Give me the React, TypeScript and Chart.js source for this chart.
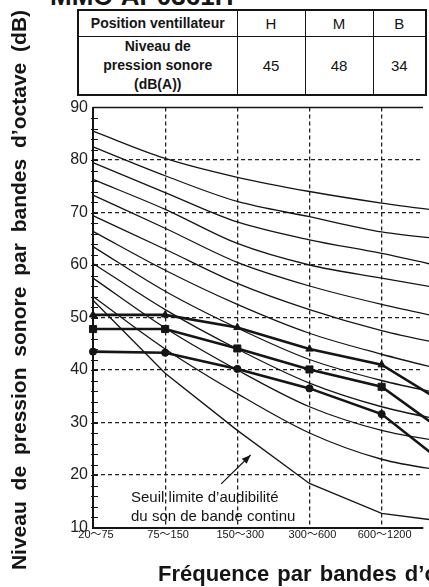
import { useEffect, useRef } from 'react';
import { Chart, registerables } from 'chart.js';

Chart.register(...registerables);

// Octave bands (Hz)
const bandLabels = ['20〜75', '75〜150', '150〜300', '300〜600', '600〜1200', '1200〜2400'];

// NC reference curves, dB per octave band
const nc70 = [85.5, 80.3, 76.7, 74.0, 71.8, 70.0];
const nc65 = [82.5, 77.0, 72.1, 69.2, 66.3, 64.7];
const nc60 = [79.5, 73.8, 68.2, 64.8, 62.2, 59.2];
const nc55 = [76.3, 70.6, 64.1, 60.0, 57.5, 55.1];
const nc50 = [73.3, 67.0, 60.5, 56.0, 52.5, 49.5];
const nc45 = [69.4, 63.0, 56.5, 51.5, 47.5, 44.5];
const nc40 = [66.4, 59.0, 52.5, 47.0, 43.0, 39.5];
const nc35 = [63.5, 55.0, 48.0, 42.0, 38.0, 35.0];
const nc30 = [60.3, 51.5, 44.0, 37.5, 33.0, 30.0];
const nc25 = [57.5, 48.0, 40.0, 33.0, 28.5, 26.0];
const nc20 = [54.0, 44.0, 35.5, 28.0, 23.0, 20.5];

// Threshold of hearing for continuous-spectrum sound
const threshold = [53.3, 39.4, 28.5, 18.4, 12.7, 10.9];

// Measured unit spectra per fan speed
const fanH = [50.5, 50.5, 48.1, 44.0, 41.0, 32.6];
const fanM = [47.8, 47.8, 44.1, 40.1, 36.8, 26.9];
const fanB = [43.5, 43.3, 40.2, 36.5, 31.6, 20.8];

// Table values
const fanPositions = ['H', 'M', 'B'];
const fanLevels = [45, 48, 34];

// Axis range
const yMin = 10;
const yMax = 90;
const xVisibleMax = 4.5734;

const ncCurves = [nc70, nc65, nc60, nc55, nc50, nc45, nc40, nc35, nc30, nc25, nc20];
const ncNames = ['NC-70', 'NC-65', 'NC-60', 'NC-55', 'NC-50', 'NC-45', 'NC-40', 'NC-35', 'NC-30', 'NC-25', 'NC-20'];

const toPoints = (vals: number[]) => vals.map((v, i) => ({ x: i, y: v }));

const FONT = '"Liberation Sans", Arial, Helvetica, sans-serif';
const INK = '#151515';

const extrasPlugin = {
  id: 'extras',
  afterDraw(chart: any) {
    const { ctx, chartArea: a, scales } = chart;
    const xs = scales.x;
    const ys = scales.y;
    ctx.save();
    ctx.strokeStyle = INK;
    // top frame line
    ctx.lineWidth = 1.6;
    ctx.beginPath();
    ctx.moveTo(a.left, a.top);
    ctx.lineTo(a.right, a.top);
    ctx.stroke();
    // minor ticks every 2 dB on the level axis
    ctx.lineWidth = 1.2;
    ctx.beginPath();
    for (let v = yMin + 2; v < yMax; v += 2) {
      const py = Math.round(ys.getPixelForValue(v)) + 0.5;
      ctx.moveTo(a.left - 2, py);
      ctx.lineTo(a.left + 5, py);
    }
    ctx.stroke();

    // threshold annotation
    ctx.fillStyle = INK;
    ctx.font = `15px ${FONT}`;
    ctx.textAlign = 'left';
    ctx.textBaseline = 'middle';
    const tx = xs.getPixelForValue(0.527);
    ctx.fillText('Seuil limite d\u2019audibilit\u00e9', tx, ys.getPixelForValue(15.6));
    ctx.fillText('du son de bande continu', tx, ys.getPixelForValue(12.1));

    // arrow pointing to the threshold curve
    const x1 = xs.getPixelForValue(1.776);
    const y1 = ys.getPixelForValue(18.3);
    const x2 = xs.getPixelForValue(2.185);
    const y2 = ys.getPixelForValue(23.8);
    ctx.lineWidth = 1.2;
    ctx.beginPath();
    ctx.moveTo(x1, y1);
    ctx.lineTo(x2, y2);
    ctx.stroke();
    const ang = Math.atan2(y2 - y1, x2 - x1);
    const hl = 9;
    const hw = 3.5;
    ctx.beginPath();
    ctx.moveTo(x2, y2);
    ctx.lineTo(x2 - hl * Math.cos(ang) + hw * Math.sin(ang), y2 - hl * Math.sin(ang) - hw * Math.cos(ang));
    ctx.lineTo(x2 - hl * Math.cos(ang) - hw * Math.sin(ang), y2 - hl * Math.sin(ang) + hw * Math.cos(ang));
    ctx.closePath();
    ctx.fill();
    ctx.restore();
  },
};

function NcChart() {
  const ref = useRef<HTMLCanvasElement | null>(null);

  useEffect(() => {
    if (!ref.current) return;

    const thick = (label: string, vals: number[], style: string, r: number) => ({
      label,
      data: toPoints(vals),
      borderColor: INK,
      backgroundColor: INK,
      borderWidth: 2.6,
      tension: 0,
      pointStyle: style,
      pointRadius: r,
      pointBorderWidth: 1,
      pointBorderColor: INK,
      pointBackgroundColor: INK,
      clip: false,
    });

    const datasets: any[] = [
      thick('H', fanH, 'triangle', 4.2),
      thick('M', fanM, 'rect', 5),
      thick('B', fanB, 'circle', 3.6),
      ...ncCurves.map((vals, i) => ({
        label: ncNames[i],
        data: toPoints(vals),
        borderColor: INK,
        borderWidth: 1.3,
        pointRadius: 0,
        cubicInterpolationMode: 'monotone',
        clip: false,
      })),
      {
        label: 'Seuil',
        data: toPoints(threshold),
        borderColor: INK,
        borderWidth: 1.3,
        pointRadius: 0,
        tension: 0,
        clip: false,
      },
    ];

    const chart = new Chart(ref.current, {
      type: 'line',
      data: { datasets },
      plugins: [extrasPlugin],
      options: {
        animation: false,
        responsive: false,
        devicePixelRatio: 1,
        layout: { padding: { top: 107.5, left: 0, right: 0, bottom: 0 } },
        plugins: {
          legend: { display: false },
          tooltip: { enabled: false },
          title: { display: false },
        },
        scales: {
          x: {
            type: 'linear',
            min: 0,
            max: xVisibleMax,
            afterFit: (s: any) => {
              s.height = 59.5;
            },
            ticks: {
              stepSize: 1,
              includeBounds: false,
              autoSkip: false,
              maxRotation: 0,
              padding: 1,
              labelOffset: 3,
              color: INK,
              font: { size: 11, family: `${FONT}, "Noto Sans CJK JP"` },
              callback: (v: any) => (Number.isInteger(v) ? bandLabels[v] : ''),
            },
            grid: {
              drawTicks: false,
              lineWidth: 1.3,
              color: (c: any) => (c.tick && c.tick.value > 0 ? '#222' : 'rgba(0,0,0,0)'),
            },
            border: { display: true, color: INK, width: 2, dash: [4, 3] },
          },
          y: {
            type: 'linear',
            min: yMin,
            max: yMax,
            afterFit: (s: any) => {
              s.width = 93;
            },
            ticks: {
              stepSize: 10,
              padding: 5,
              color: '#222',
              font: { size: 16, family: FONT },
            },
            grid: {
              drawTicks: false,
              lineWidth: 1.3,
              color: (c: any) =>
                c.tick && c.tick.value > yMin && c.tick.value < yMax ? '#222' : 'rgba(0,0,0,0)',
            },
            border: { display: true, color: INK, width: 2, dash: [4, 3] },
          },
        },
      },
    });

    return () => chart.destroy();
  }, []);

  return (
    <canvas
      ref={ref}
      width={429}
      height={587}
      style={{ position: 'absolute', left: 0, top: 0, width: 429, height: 587 }}
    />
  );
}

export default function App() {
  const cell: React.CSSProperties = {
    border: `1.5px solid ${INK}`,
    padding: 0,
    textAlign: 'center',
    verticalAlign: 'middle',
  };
  return (
    <div
      style={{
        position: 'absolute',
        left: 0,
        top: 0,
        width: 429,
        height: 587,
        overflow: 'hidden',
        background: '#fff',
        fontFamily: FONT,
        color: INK,
      }}
    >
      <div
        style={{
          position: 'absolute',
          left: 50,
          top: -19,
          fontSize: 26,
          fontWeight: 700,
          lineHeight: '30px',
          whiteSpace: 'nowrap',
        }}
      >
        MMC-AP0361H-
      </div>
      <table
        style={{
          position: 'absolute',
          left: 77,
          top: 9,
          width: 348,
          height: 84,
          borderCollapse: 'collapse',
          border: `2px solid ${INK}`,
          tableLayout: 'fixed',
          fontSize: 14,
        }}
      >
        <colgroup>
          <col style={{ width: 159 }} />
          <col style={{ width: 68 }} />
          <col style={{ width: 68 }} />
          <col style={{ width: 53 }} />
        </colgroup>
        <tbody>
          <tr style={{ height: 26 }}>
            <td style={{ ...cell, fontWeight: 700 }}>Position ventillateur</td>
            {fanPositions.map((p) => (
              <td key={p} style={{ ...cell, fontSize: 15 }}>
                {p}
              </td>
            ))}
          </tr>
          <tr style={{ height: 58 }}>
            <td style={{ ...cell, fontWeight: 700, lineHeight: '19px' }}>
              Niveau de
              <br />
              pression sonore
              <br />
              (dB(A))
            </td>
            {fanLevels.map((v, i) => (
              <td key={i} style={{ ...cell, fontSize: 15 }}>
                {v}
              </td>
            ))}
          </tr>
        </tbody>
      </table>
      <NcChart />
      <div
        style={{
          position: 'absolute',
          left: 19 - 300,
          top: 290 - 12,
          width: 600,
          height: 24,
          lineHeight: '24px',
          textAlign: 'center',
          transform: 'rotate(-90deg)',
          fontWeight: 700,
          fontSize: 21,
          wordSpacing: '5px',
          whiteSpace: 'nowrap',
        }}
      >
        Niveau de pression sonore par bandes d’octave (dB)
      </div>
      <div
        style={{
          position: 'absolute',
          left: 158,
          top: 561,
          fontWeight: 700,
          fontSize: 22,
          lineHeight: '26px',
          wordSpacing: '2px',
          whiteSpace: 'nowrap',
        }}
      >
        Fréquence par bandes d’octave (Hz)
      </div>
    </div>
  );
}
